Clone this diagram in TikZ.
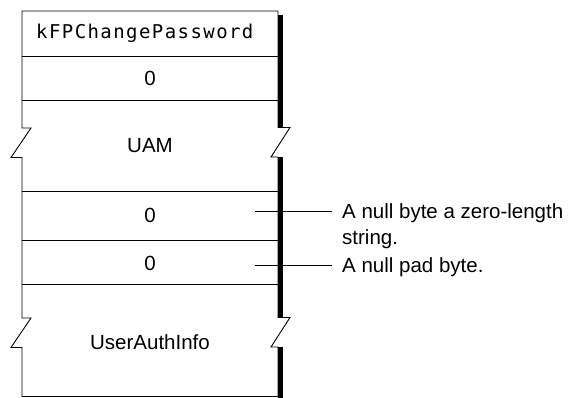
\documentclass[tikz,border=0pt]{standalone}
\usepackage{fontspec}
\setmainfont{Liberation Sans}
\newfontfamily\monofnt[LetterSpace=7.5]{DejaVu Sans Mono}
\begin{document}
\begin{tikzpicture}[x=1pt,y=-1pt,
  boxline/.style={line width=0.9pt,line join=miter},
  divline/.style={line width=0.9pt},
  shadowline/.style={line width=5pt},
  lbl/.style={font=\fontsize{20.5}{26}\selectfont,inner sep=0pt},
  monolbl/.style={font=\monofnt\fontsize{19}{22}\selectfont,inner sep=0pt},
  note/.style={font=\fontsize{20.5}{26}\selectfont,inner xsep=10pt,inner ysep=0pt,align=left},
  conn/.style={line width=0.9pt}]
\useasboundingbox (0,0) rectangle (574,398);
% shadow
\draw[shadowline] (280.8,15) -- (280.8,127.5);
\draw[shadowline] (280.8,157.5) -- (280.8,317.5);
\draw[shadowline] (280.8,347.5) -- (280.8,398);
% outline with break marks
\draw[boxline] (22,11) -- (278,11) -- (278,127.5) -- (290,127.5) -- (271,157) -- (278,157)
  -- (278,317.5) -- (290,317.5) -- (271,347) -- (278,347) -- (278,396.5)
  -- (22,396.5) -- (22,347.5) -- (11,347.5) -- (31,318) -- (22,318)
  -- (22,157.5) -- (11,157.5) -- (31,128) -- (22,128) -- cycle;
% dividers
\draw[divline] (22,56) -- (278,56);
\draw[divline] (22,100.5) -- (278,100.5);
\draw[divline] (22,191.5) -- (278,191.5);
\draw[divline] (22,240) -- (278,240);
\draw[divline] (22,284) -- (278,284);
% labels
\node[monolbl,anchor=west] (cmd) at (36,33.5) {kFPChangePassword};
\node[lbl] (z1) at (150,78.5) {0};
\node[lbl] (uam) at (150,145.5) {UAM};
\node[lbl] (z2) at (150,215.5) {0};
\node[lbl] (z3) at (150,263) {0};
\node[lbl] (uai) at (150,342) {UserAuthInfo};
% notes
\coordinate (c1) at (255,211);
\coordinate (c2) at (255,265);
\node[note,anchor=north west] (n1) at (332,203.2) {A null byte a zero-length\\string.};
\node[note,anchor=north west] (n2) at (332,257) {A null pad byte.};
\draw[conn] (c1) -- (c1 -| n1.west);
\draw[conn] (c2) -- (c2 -| n2.west);
\end{tikzpicture}
\end{document}
